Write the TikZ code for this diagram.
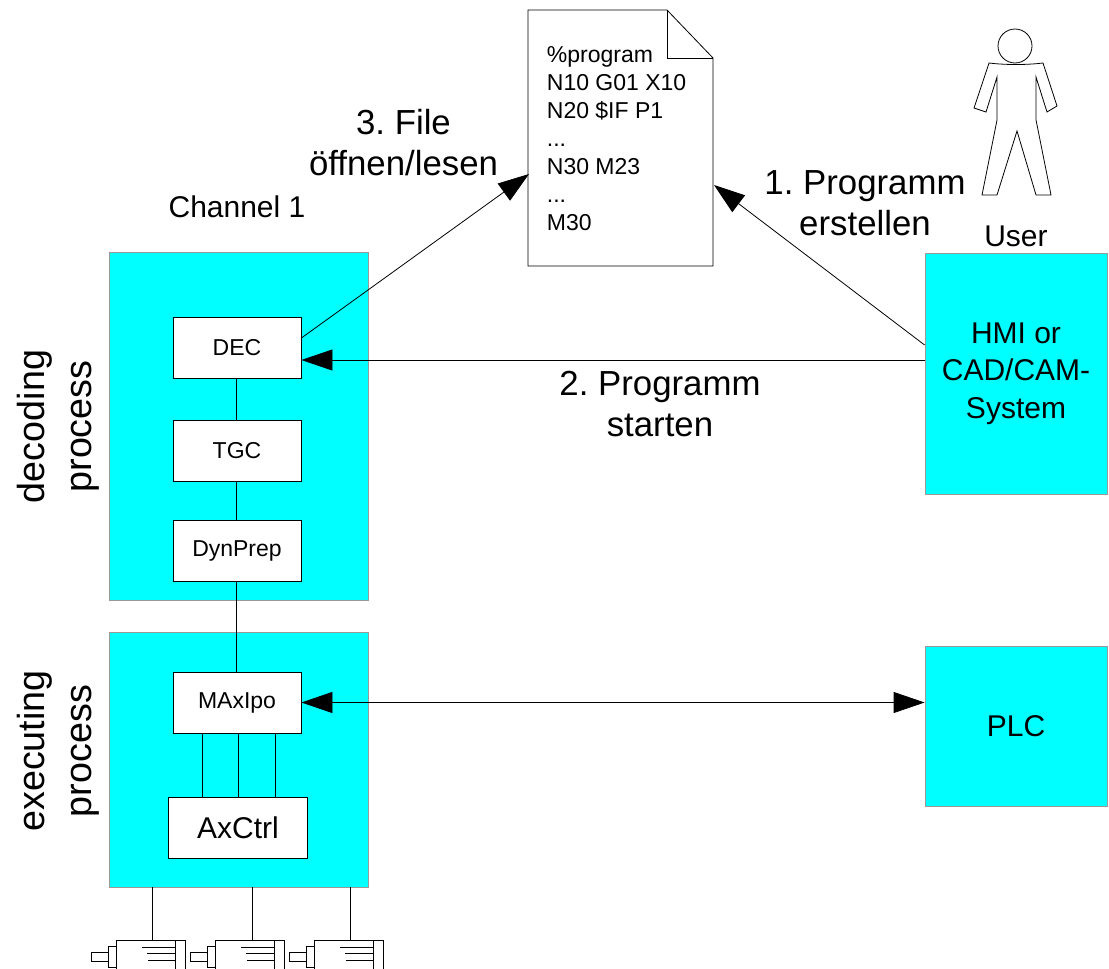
\documentclass[tikz,border=0pt]{standalone}
\usepackage{fontspec}
\setmainfont{Liberation Sans}
\usetikzlibrary{arrows.meta}
\definecolor{processCyan}{RGB}{0,255,255}
\frenchspacing

\begin{document}
\begin{tikzpicture}[
  x=1pt,y=-1pt,
  every node/.style={align=center,inner sep=0pt},
  every path/.style={line width=0.8pt},
  process/.style={draw=black!40,fill=processCyan,minimum width=#1},
  unit/.style={draw,fill=white,minimum width=128pt,minimum height=61pt,font=\fontsize{23}{26}\selectfont},
  hugeText/.style={font=\fontsize{34.8}{41.5}\selectfont},
  sideText/.style={font=\fontsize{37.7}{47}\selectfont,rotate=90},
  midText/.style={font=\fontsize{30}{37.5}\selectfont},
  listText/.style={font=\fontsize{23}{28}\selectfont,align=left},
  flow/.style={-{Triangle[length=31pt,width=21pt]}},
  flowBoth/.style={{Triangle[length=31pt,width=21pt]}-{Triangle[length=31pt,width=21pt]}}]

  \useasboundingbox (0,0) rectangle (1109,969);

  % process blocks
  \node[process=259pt,minimum height=348pt] (decoding) at (238.5,426) {};
  \node[process=259pt,minimum height=255pt] (executing) at (238.5,759.5) {};
  \node[process=182pt,minimum height=241pt,midText] (hmi) at (1016,373.5) {HMI or\\CAD/CAM-\\System};
  \node[process=182pt,minimum height=160pt,midText] (plc) at (1016,726) {PLC};

  % units
  \node[unit] (dec) at (237,347.5) {DEC};
  \node[unit] (tgc) at (237,450.5) {TGC};
  \node[unit] (dynprep) at (237,550.5) {DynPrep};
  \node[unit] (maxipo) at (237,702.5) {MAxIpo};
  \node[unit,minimum width=139pt,midText] (axctrl) at (238,827.5) {AxCtrl};

  % program file
  \draw[fill=white] (528,10) -- (667,10) -- (713,58) -- (713,266) -- (528,266) -- cycle;
  \draw (667,10) -- (667,58) -- (713,58);
  \node[listText,anchor=north west] (listing) at (546.5,46) {\%program\\N10 G01 X10\\N20 \$IF P1\\...\\N30 M23\\...\\M30};

  % user
  \node[draw,circle,minimum size=34pt] (head) at (1015,46) {};
  \draw (989,63) .. controls (1005,65) and (1027,65) .. (1043,63) -- (1057,106) -- (1047,112) -- (1036,77) -- (1036,120)
    -- (1051,195) -- (1036,195) -- (1017,131) -- (997,195) -- (982,195) -- (997,120) -- (997,77) -- (986,112) -- (974,108) -- cycle;

  % labels
  \node[midText] (channel) at (237,207) {Channel 1};
  \node[midText] (user) at (1016,236) {User};
  \node[hugeText] (open) at (403.5,142.5) {3. File\\öffnen/lesen};
  \node[hugeText] (create) at (865,203) {1. Programm\\erstellen};
  \node[hugeText] (start) at (660,404) {2. Programm\\starten};
  \node[sideText] (decodingText) at (58,426.5) {decoding\\process};
  \node[sideText] (executingText) at (58,751) {executing\\process};

  % unit links
  \draw ([xshift=-1pt]dec.south) -- ([xshift=-1pt]tgc.north);
  \draw ([xshift=-1pt]tgc.south) -- ([xshift=-1pt]dynprep.north);
  \draw ([xshift=-1pt]dynprep.south) -- ([xshift=-1pt]maxipo.north);
  \foreach \dx in {-35,1,38}
    \draw ([xshift=\dx pt]maxipo.south) -- ([xshift=\dx pt]maxipo.south |- axctrl.north);

  % file and program arrows
  \coordinate (fileRead) at (529,174);
  \coordinate (fileWrite) at (714,185);
  \draw[flow] ([yshift=9.5pt]dec.east) -- (fileRead);
  \draw[flow] ([yshift=28.5pt]hmi.west) -- (fileWrite);
  \draw[flow] ([yshift=13.5pt]hmi.west) -- ([yshift=-12.5pt]dec.east);
  \draw[flowBoth] (maxipo.east) -- (plc.west |- maxipo);

  % motors
  \foreach \i/\dx/\wire in {1/0/152,2/99/252,3/198/350} {
    \begin{scope}[shift={(\dx,0)}]
      \coordinate (motor\i) at (\wire-\dx,940);
      \draw (116,969) -- (116,940) -- (185,940) -- (185,969);
      \draw (175,940) -- (175,969);
      \draw (108,946) rectangle (116,967);
      \draw (91,952) rectangle (108,961);
      \draw (142,947) -- (175,947);
      \draw (147,953) -- (175,953);
      \draw (148,960) -- (175,960);
    \end{scope}
    \draw (\wire,887) -- (motor\i);
  }
\end{tikzpicture}
\end{document}
